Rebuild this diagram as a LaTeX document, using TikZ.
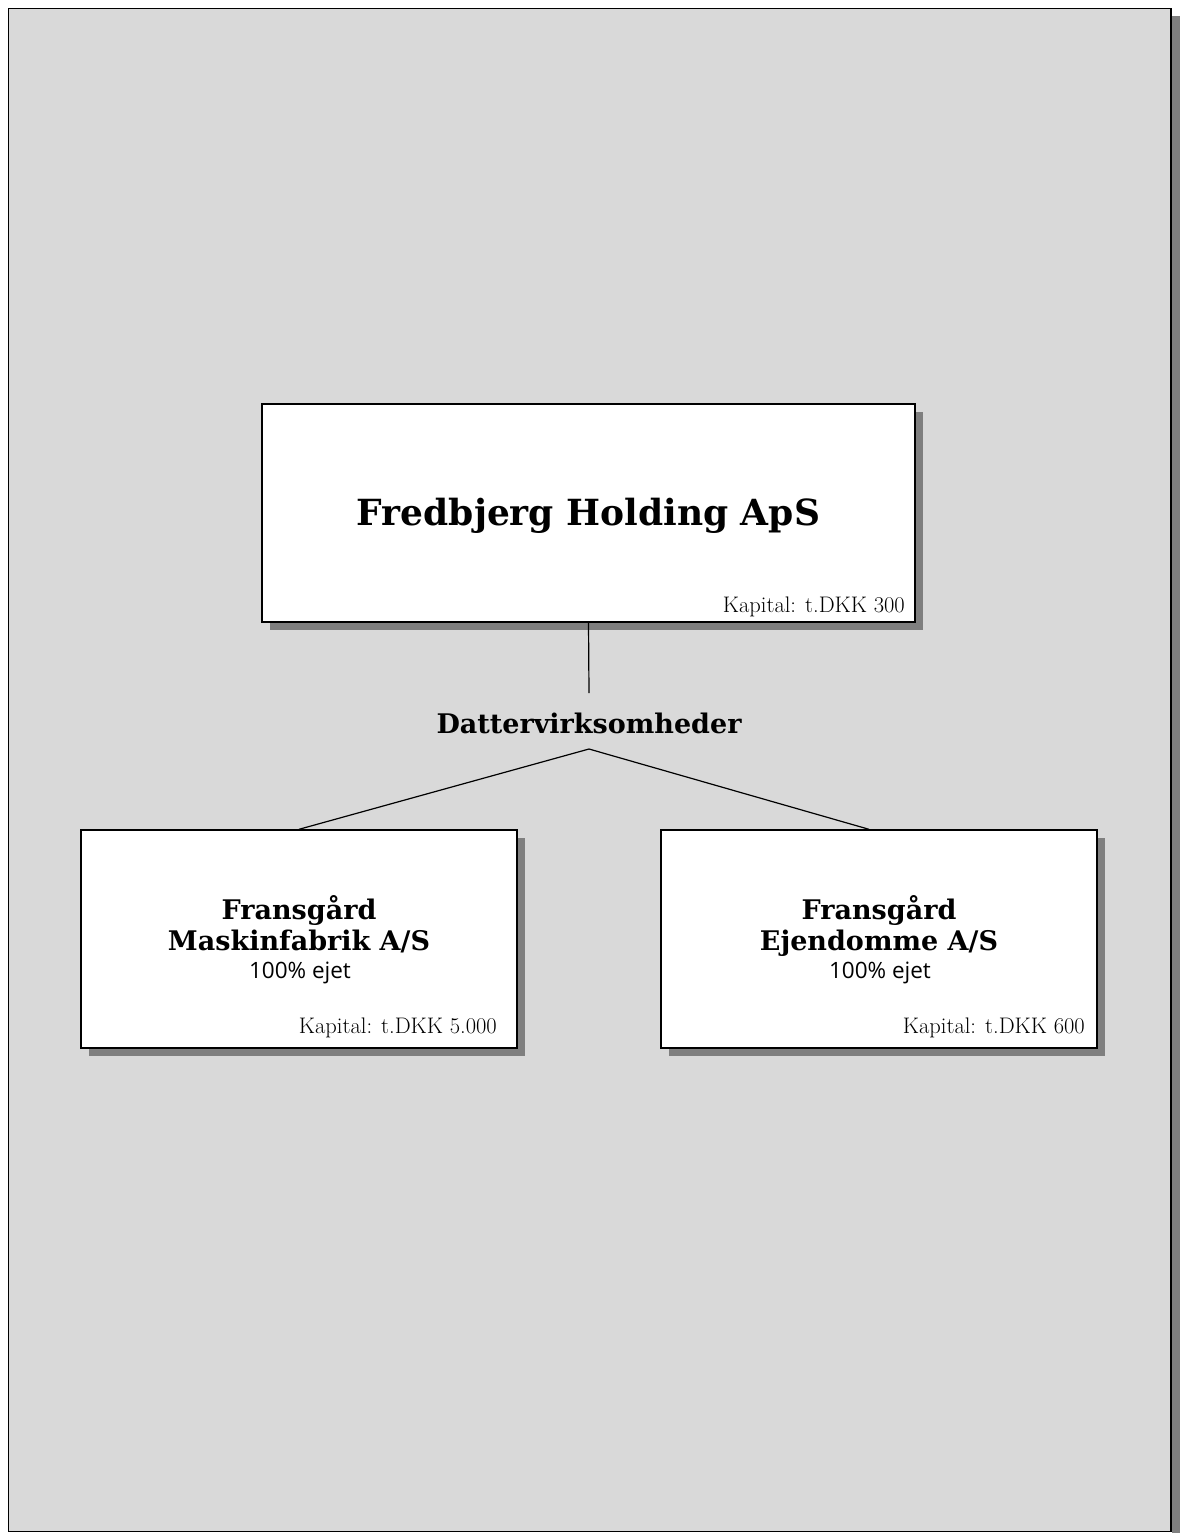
\documentclass[tikz,border=0pt]{standalone}
\usepackage{fontspec}
\newfontfamily\slab{DejaVu Serif}
\newfontfamily\lsans{Open Sans}
\usetikzlibrary{shadows}
\definecolor{bg}{HTML}{D9D9D9}
\definecolor{shd}{HTML}{7F7F7F}
\tikzset{
  box/.style={draw=black, line width=1.4pt, fill=white, inner sep=0pt,
    drop shadow={shadow xshift=8pt, shadow yshift=-8pt, fill=shd, opacity=1}},
  ttl/.style={font=\slab\bfseries\fontsize{36}{40}\selectfont, inner sep=0pt},
  sub/.style={font=\slab\bfseries\fontsize{27}{31}\selectfont, inner sep=0pt},
  kap/.style={font=\fontsize{22.5}{26}\selectfont, inner sep=0pt, anchor=base east},
  own/.style={font=\lsans\fontsize{22.5}{26}\selectfont, inner sep=0pt, anchor=base},
  conn/.style={draw=black, line width=1.2pt}
}
\begin{document}
\begin{tikzpicture}[x=1pt,y=-1pt]
\useasboundingbox (0,0) rectangle (1183,1533);
\fill[shd] (1172,16) rectangle (1180,1533);
\draw[fill=bg, line width=1.5pt] (8.5,8.5) rectangle (1171,1531.5);

\node[box, minimum width=653pt, minimum height=218pt] (hold) at (588.5,513) {};
\node[box, minimum width=436pt, minimum height=218pt] (lb) at (299,939) {};
\node[box, minimum width=436pt, minimum height=218pt] (rb) at (879,939) {};

\node[ttl, anchor=base] (t1) at (588.5,525) {Fredbjerg Holding ApS};
\node[kap] (k1) at (905,612) {Kapital: t.DKK 300};

\node[sub, anchor=base] (dv) at (589,733) {Dattervirksomheder};

\node[sub, anchor=base] (l1) at (299,919) {Fransgård};
\node[sub, anchor=base] (l2) at (299,950) {Maskinfabrik A/S};
\node[own] (l3) at (300,978) {100\% ejet};
\node[kap] (k2) at (497,1033) {Kapital: t.DKK 5.000};

\node[sub, anchor=base] (r1) at (879,919) {Fransgård};
\node[sub, anchor=base] (r2) at (879,950) {Ejendomme A/S};
\node[own] (r3) at (880,978) {100\% ejet};
\node[kap] (k3) at (1085,1033) {Kapital: t.DKK 600};

\coordinate (dvtop) at (589,693);
\coordinate (apex) at (589,749);
\draw[conn] (hold.south) -- (dvtop);
\draw[conn] (lb.north) -- (apex) -- ([xshift=-10pt]rb.north);
\end{tikzpicture}
\end{document}
